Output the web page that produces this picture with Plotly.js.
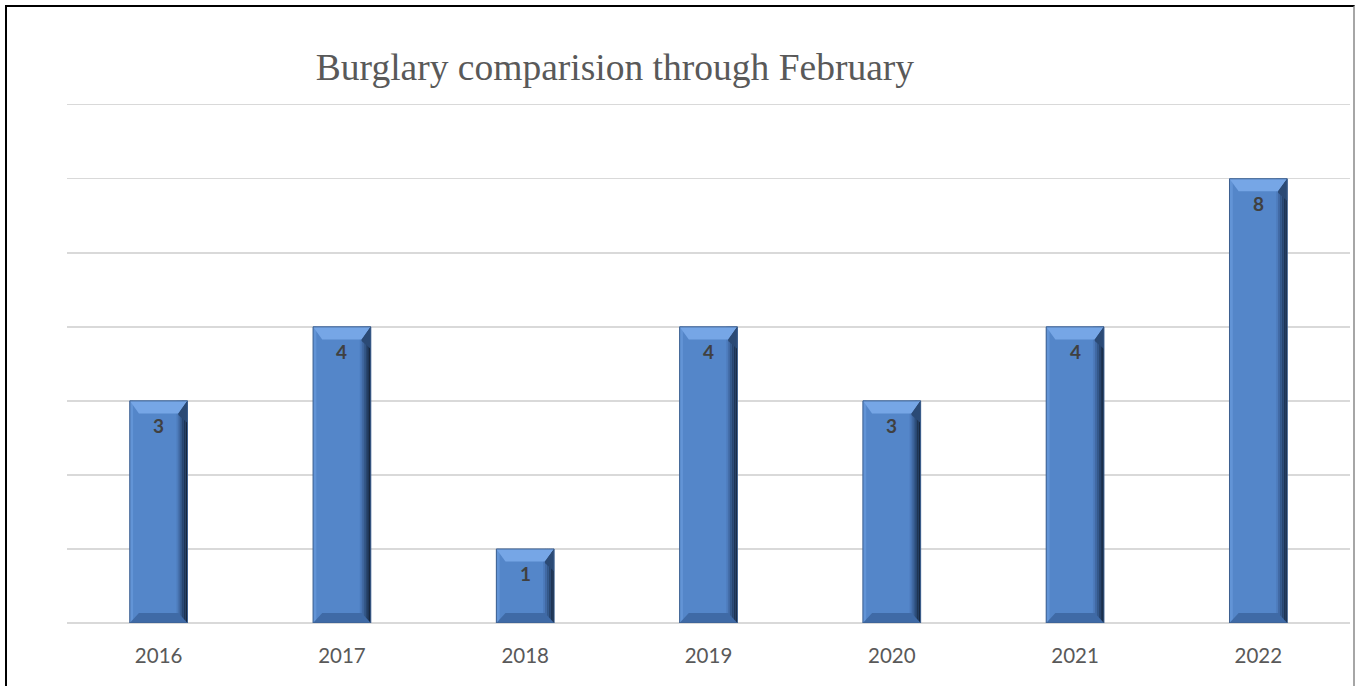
<!DOCTYPE html>
<html>
<head>
<meta charset="utf-8">
<script src="https://cdn.plot.ly/plotly-3.0.1.min.js"></script>
<style>
html,body{margin:0;padding:0;background:#fff;overflow:hidden;}
#wrap{position:relative;width:1356px;height:686px;}
#chart{position:absolute;left:0;top:0;width:1356px;height:686px;}
#frame{position:absolute;left:5px;top:5px;width:1346px;height:690px;border-left:2px solid #000;border-top:2px solid #000;border-right:2px solid #a6a6a6;pointer-events:none;}
</style>
</head>
<body>
<div id="wrap"><div id="chart"></div><div id="frame"></div></div>
<script>
// Data
const years = ["2016", "2017", "2018", "2019", "2020", "2021", "2022"];
const barHeights = [3, 4, 1, 4, 3, 4, 6];           // drawn bar heights
const barLabels = ["3", "4", "1", "4", "3", "4", "8"]; // data labels shown on bars

const idx = years.map((_, i) => i);
const barWidth = 0.315;

const trace = {
  type: "bar",
  x: idx,
  y: barHeights,
  width: barWidth,
  marker: {color: "#5486c9", line: {width: 0}},
  hoverinfo: "skip"
};

// bevel shapes derived from data values
const shapes = [];
const hw = barWidth / 2, dx = 0.05, dy = 0.17;
barHeights.forEach((v, i) => {
  const x0 = i - hw, x1 = i + hw;
  // left light edge
  shapes.push({type: "rect", xref: "x", yref: "y", x0: x0, x1: x0 + 0.018, y0: 0, y1: v,
    fillcolor: "#6294d6", line: {width: 0}, layer: "above"});
  // right darkening gradient strips
  const cols = ["#4d7bbb", "#4169a3", "#34588a", "#284670", "#1e3555", "#16263d"];
  const sw = 0.06 / cols.length;
  cols.forEach((c, k) => {
    shapes.push({type: "rect", xref: "x", yref: "y", x0: x1 - 0.06 + k * sw, x1: x1 - 0.06 + (k + 1) * sw,
      y0: 0, y1: v, fillcolor: c, line: {width: 0}, layer: "above"});
  });
  // top bevel
  shapes.push({type: "path", xref: "x", yref: "y",
    path: `M ${x0},${v} L ${x1},${v} L ${x1 - dx},${v - dy} L ${x0 + dx},${v - dy} Z`,
    fillcolor: "#76a6e6", line: {width: 0}, layer: "above"});
  // top right corner darker facet
  shapes.push({type: "path", xref: "x", yref: "y",
    path: `M ${x1},${v} L ${x1 - dx},${v - dy} L ${x1 - dx},${v - dy - 0.02} L ${x1},${v - 0.3} Z`,
    fillcolor: "#2b4a75", line: {width: 0}, layer: "above"});
  // bottom bevel
  shapes.push({type: "path", xref: "x", yref: "y",
    path: `M ${x0},0 L ${x1},0 L ${x1 - dx},${dy * 0.8} L ${x0 + dx},${dy * 0.8} Z`,
    fillcolor: "#3f6aa6", line: {width: 0}, layer: "above"});
  // thin outline
  shapes.push({type: "rect", xref: "x", yref: "y", x0: x0, x1: x1, y0: 0, y1: v,
    fillcolor: "rgba(0,0,0,0)", line: {width: 1, color: "#3c5f8f"}, layer: "above"});
});

const annotations = barHeights.map((v, i) => ({
  x: i, y: v, xref: "x", yref: "y", text: barLabels[i], showarrow: false,
  yanchor: "top", yshift: -11,
  font: {family: "Lato, 'Open Sans', sans-serif", size: 19, color: "#404040", weight: "bold"}
}));

const layout = {
  width: 1356, height: 686,
  margin: {l: 67, r: 6, t: 101, b: 63, pad: 0},
  paper_bgcolor: "#ffffff", plot_bgcolor: "#ffffff",
  showlegend: false,
  title: {
    text: "Burglary comparision through February",
    font: {family: "'Liberation Serif', 'Times New Roman', serif", size: 37.5, color: "#595959"},
    x: 0.4535, xref: "container", xanchor: "center",
    y: 0.902, yref: "container", yanchor: "middle"
  },
  xaxis: {
    range: [-0.5, 6.5], tickmode: "array", tickvals: idx, ticktext: years,
    showgrid: false, zeroline: false, showline: false,
    ticks: "outside", ticklen: 14, tickcolor: "rgba(0,0,0,0)",
    tickfont: {family: "Lato, 'Open Sans', sans-serif", size: 20.5, color: "#595959"},
    fixedrange: true
  },
  yaxis: {
    range: [0, 7.05], dtick: 1, showticklabels: false, ticks: "",
    showgrid: true, gridcolor: "#d9d9d9", gridwidth: 1.5,
    zeroline: true, zerolinecolor: "#d9d9d9", zerolinewidth: 1.5,
    fixedrange: true
  },
  shapes: shapes,
  annotations: annotations,
  bargap: 0.685
};

Plotly.newPlot("chart", [trace], layout, {displayModeBar: false, staticPlot: true});
</script>
</body>
</html>
